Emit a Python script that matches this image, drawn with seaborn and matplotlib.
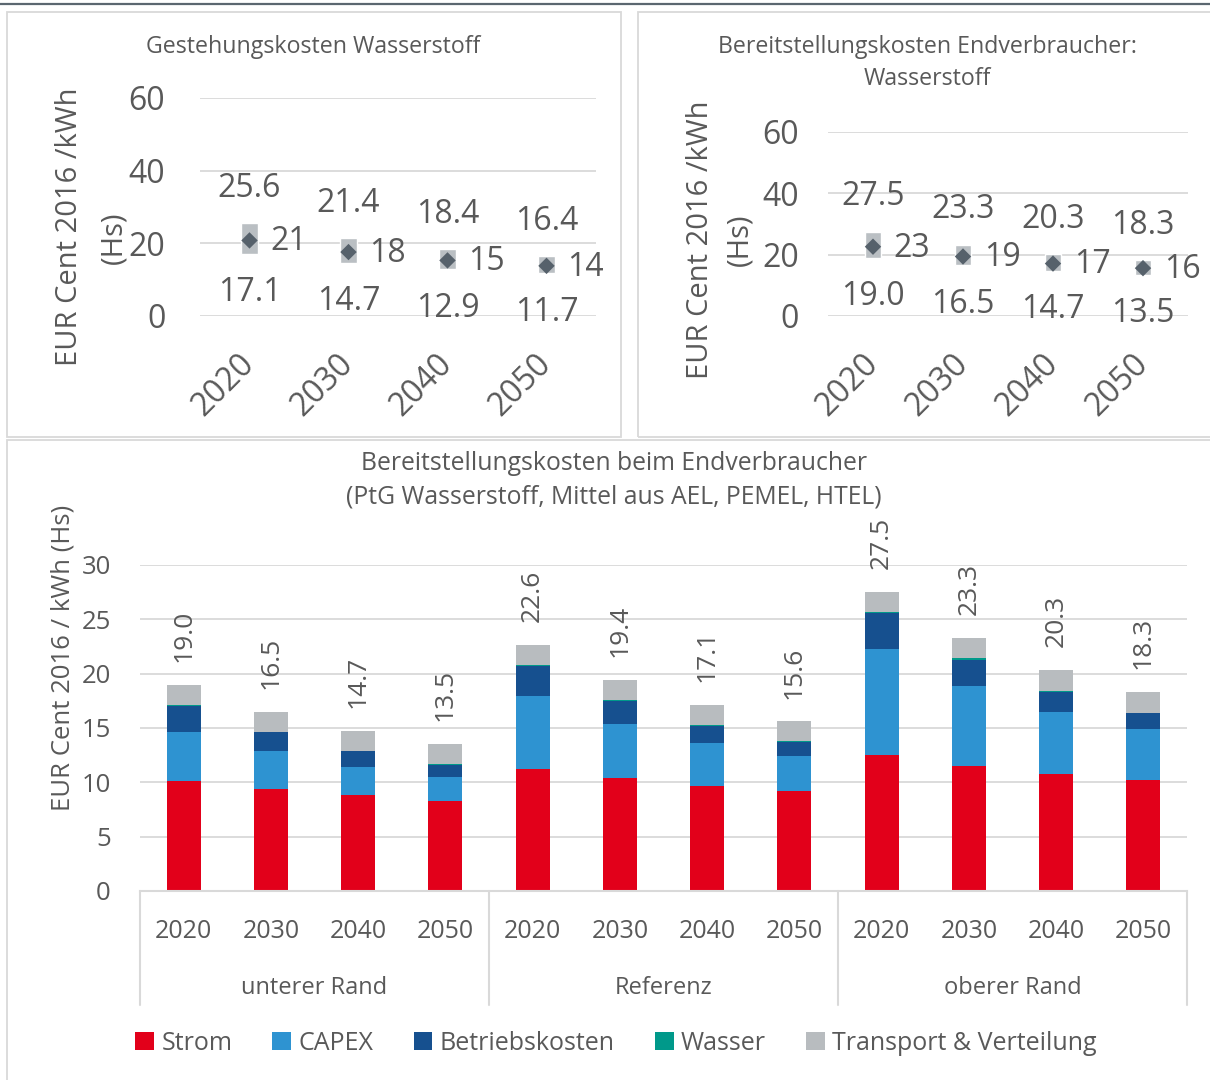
import numpy as np
import pandas as pd
import matplotlib
matplotlib.use("Agg")
import matplotlib.pyplot as plt
from matplotlib.patches import Rectangle, Patch
from matplotlib.lines import Line2D
import matplotlib.transforms as mtransforms
import seaborn as sns

# ---------------- data ----------------
years = ["2020", "2030", "2040", "2050"]
scenarios = ["unterer Rand", "Referenz", "oberer Rand"]
components = ["Strom", "CAPEX", "Betriebskosten", "Wasser", "Transport & Verteilung"]

# cost components per scenario/year (EUR Cent 2016 / kWh, Hs)
strom = [10.1, 9.4, 8.8, 8.3, 11.2, 10.4, 9.7, 9.2, 12.5, 11.5, 10.8, 10.2]
capex = [4.5, 3.45, 2.6, 2.2, 6.7, 4.95, 3.9, 3.2, 9.8, 7.4, 5.7, 4.75]
betrieb = [2.45, 1.75, 1.45, 1.1, 2.85, 2.1, 1.6, 1.35, 3.3, 2.4, 1.85, 1.4]
wasser = [0.1, 0.05, 0.05, 0.05, 0.05, 0.1, 0.05, 0.05, 0.05, 0.1, 0.05, 0.05]
transport = [1.85, 1.85, 1.8, 1.85, 1.8, 1.85, 1.85, 1.8, 1.85, 1.9, 1.9, 1.9]

# Gestehungskosten Wasserstoff (range and reference)
gest_low = [17.1, 14.7, 12.9, 11.7]
gest_high = [25.6, 21.4, 18.4, 16.4]
gest_ref = [20.8, 17.6, 15.3, 13.8]

# Bereitstellungskosten Endverbraucher (range and reference)
bereit_low = [19.0, 16.5, 14.7, 13.5]
bereit_high = [27.5, 23.3, 20.3, 18.3]
bereit_ref = [22.6, 19.4, 17.1, 15.6]

# ---------------- style ----------------
colors = {
    "Strom": "#E2001A",
    "CAPEX": "#2E93D1",
    "Betriebskosten": "#16508F",
    "Wasser": "#00998A",
    "Transport & Verteilung": "#B8BCBF",
}
TXT = "#595959"
GRID = "#D9D9D9"
RANGE_C = "#BABFC3"
MARK_C = "#56616B"

sns.set_theme(style="white")
plt.rcParams["font.family"] = ["Open Sans", "DejaVu Sans"]
plt.rcParams["text.color"] = TXT
plt.rcParams["axes.labelcolor"] = TXT
plt.rcParams["xtick.color"] = TXT
plt.rcParams["ytick.color"] = TXT

W, H = 1210, 1080
fig = plt.figure(figsize=(W / 100, H / 100), dpi=100)
fig.patch.set_facecolor("white")


def rect(x0, y0, x1, y1):
    """Pixel box (top-left origin) -> figure fraction rectangle."""
    return [x0 / W, 1 - y1 / H, (x1 - x0) / W, (y1 - y0) / H]


def fx(x):
    return x / W


def fy(y):
    return 1 - y / H


# panel frames and top rule
fig.add_artist(Line2D([0, 1], [fy(3.5), fy(3.5)], transform=fig.transFigure,
                      color="#5B6770", lw=1.6))
for (x0, y0, x1, y1) in [(7, 12, 621, 437), (638, 12, 1215, 437), (7, 440, 1215, 1085)]:
    fig.add_artist(Rectangle((fx(x0), fy(y1)), fx(x1) - fx(x0), fy(y0) - fy(y1),
                             transform=fig.transFigure, fill=False,
                             edgecolor=GRID, lw=1.3))

TOP_FS = 23


# ---------------- top panels ----------------
def range_panel(ax, low, high, ref, ytick_pad):
    df = pd.DataFrame({"year": years, "pos": np.arange(len(years)),
                       "low": low, "high": high, "ref": ref})
    ax.bar(df["pos"], df["high"] - df["low"], bottom=df["low"], width=0.18,
           color=RANGE_C, zorder=2)
    sns.scatterplot(data=df, x="pos", y="ref", marker="D", s=70, color=MARK_C,
                    edgecolor="none", ax=ax, zorder=3, legend=False)
    for _, r in df.iterrows():
        ax.annotate(f"{r['high']:.1f}", (r["pos"], r["high"]), xytext=(0, 25),
                    textcoords="offset points", ha="center", va="center",
                    fontsize=TOP_FS, color=TXT)
        ax.annotate(f"{r['low']:.1f}", (r["pos"], r["low"]), xytext=(0, -28),
                    textcoords="offset points", ha="center", va="center",
                    fontsize=TOP_FS, color=TXT)
        ax.annotate(f"{r['ref']:.0f}", (r["pos"], r["ref"]), xytext=(15, -1),
                    textcoords="offset points", ha="left", va="center",
                    fontsize=TOP_FS, color=TXT)
    ax.set_xlim(-0.5, len(years) - 0.5)
    ax.set_ylim(0, 60)
    ax.set_yticks([0, 20, 40, 60])
    ax.yaxis.grid(True, color=GRID, lw=1.3)
    ax.set_axisbelow(True)
    for s in ax.spines.values():
        s.set_visible(False)
    ax.set_xticks(df["pos"])
    ax.set_xticklabels(years, rotation=45, ha="right", va="center",
                       rotation_mode="anchor")
    ax.tick_params(axis="x", length=0, pad=31, labelsize=TOP_FS)
    ax.tick_params(axis="y", length=0, pad=ytick_pad, labelsize=TOP_FS)
    ax.set_xlabel("")
    ax.set_ylabel("")


ax1 = fig.add_axes(rect(200, 98, 596, 316))
range_panel(ax1, gest_low, gest_high, gest_ref, 25)
fig.text(fx(313), fy(47), "Gestehungskosten Wasserstoff", ha="center",
         va="center", fontsize=16.7, color=TXT)
fig.text(fx(70), fy(227), "EUR Cent 2016 /kWh", rotation=90, ha="center",
         va="center", fontsize=21, color=TXT)
fig.text(fx(114), fy(238), "(Hs)", rotation=90, ha="center", va="center",
         fontsize=21, color=TXT)

ax2 = fig.add_axes(rect(828, 132, 1188, 316))
range_panel(ax2, bereit_low, bereit_high, bereit_ref, 21)
fig.text(fx(927), fy(47), "Bereitstellungskosten Endverbraucher:", ha="center",
         va="center", fontsize=16.7, color=TXT)
fig.text(fx(927), fy(79), "Wasserstoff", ha="center", va="center",
         fontsize=16.7, color=TXT)
fig.text(fx(700), fy(240), "EUR Cent 2016 /kWh", rotation=90, ha="center",
         va="center", fontsize=21, color=TXT)
fig.text(fx(740), fy(240), "(Hs)", rotation=90, ha="center", va="center",
         fontsize=21, color=TXT)

# ---------------- bottom stacked bars ----------------
ax3 = fig.add_axes(rect(140, 565, 1187, 891))
n = len(strom)
pos = np.arange(n)
layers = [strom, capex, betrieb, wasser, transport]
cum = np.cumsum(np.array(layers), axis=0)
totals = cum[-1]

# draw from the top layer down so each lower cumulative bar covers the one above
for i in range(len(components) - 1, -1, -1):
    d = pd.DataFrame({"pos": pos, "value": cum[i]})
    sns.barplot(data=d, x="pos", y="value", native_scale=True, width=0.39,
                color=colors[components[i]], saturation=1, errorbar=None,
                linewidth=0, ax=ax3, zorder=2)

for p, t in zip(pos, totals):
    ax3.annotate(f"{t:.1f}", (p, t), xytext=(0, 16.5), textcoords="offset points",
                 rotation=90, ha="center", va="bottom", fontsize=19, color=TXT)

ax3.set_xlim(-0.5, n - 0.5)
ax3.set_ylim(0, 30)
ax3.set_yticks([0, 5, 10, 15, 20, 25, 30])
ax3.yaxis.grid(True, color=GRID, lw=1.3)
ax3.set_axisbelow(True)
for s in ["top", "right", "left"]:
    ax3.spines[s].set_visible(False)
ax3.spines["bottom"].set_color(GRID)
ax3.spines["bottom"].set_linewidth(1.5)
ax3.set_xticks([])
ax3.tick_params(axis="y", length=0, pad=21, labelsize=18.5)
ax3.set_xlabel("")
ax3.set_ylabel("")

trans = mtransforms.blended_transform_factory(ax3.transData, ax3.transAxes)
ax_h = 891 - 565
for p in pos:
    ax3.text(p, -(932 - 891) / ax_h, years[p % 4], transform=trans, ha="center",
             va="center", fontsize=18, color=TXT)
for g, name in enumerate(scenarios):
    ax3.text(g * 4 + 1.5, -(988 - 891) / ax_h, name, transform=trans,
             ha="center", va="center", fontsize=17, color=TXT)
for xb in [-0.5, 3.5, 7.5, 11.5]:
    ax3.add_line(Line2D([xb, xb], [0, -(1005 - 891) / ax_h], transform=trans,
                        color=GRID, lw=1.5, clip_on=False))

fig.text(fx(614), fy(463), "Bereitstellungskosten beim Endverbraucher",
         ha="center", va="center", fontsize=17.8, color=TXT)
fig.text(fx(614), fy(497), "(PtG Wasserstoff, Mittel aus AEL, PEMEL, HTEL)",
         ha="center", va="center", fontsize=17.8, color=TXT)
fig.text(fx(63), fy(658), "EUR Cent 2016 / kWh (Hs)", rotation=90, ha="center",
         va="center", fontsize=18.5, color=TXT)

handles = [Patch(facecolor=colors[c], edgecolor="none") for c in components]
fig.legend(handles, components, loc="center", bbox_to_anchor=(fx(616), fy(1043)),
           ncol=5, frameon=False, fontsize=18, handlelength=0.75,
           handleheight=0.75, handletextpad=0.3, columnspacing=1.6,
           labelcolor=TXT)

fig.savefig("out.png", dpi=100, facecolor="white")
